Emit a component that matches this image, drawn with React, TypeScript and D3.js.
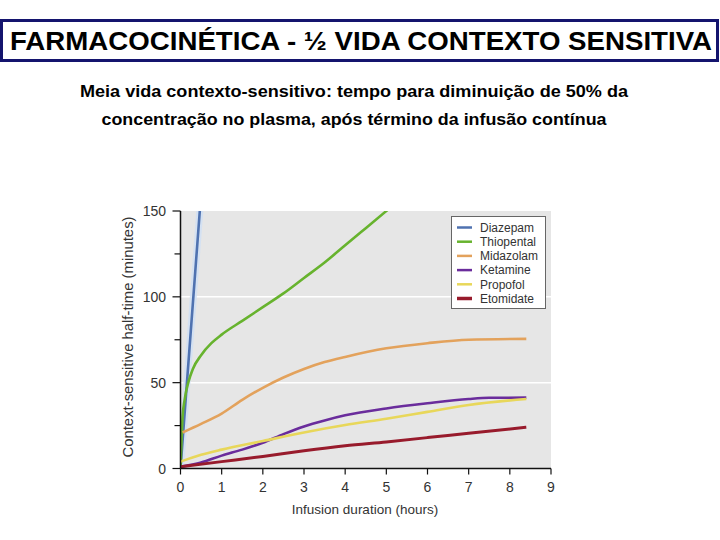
import * as d3 from "d3";

const drugs = ["Diazepam", "Thiopental", "Midazolam", "Ketamine", "Propofol", "Etomidate"];
const colors = ["#4f72b0", "#67b32e", "#e3a25c", "#6a2c9c", "#e8d75a", "#981b2c"];

// [hours, minutes]
const diazepam: [number, number][] = [[0, 0], [0.25, 80], [0.5, 160]];
const thiopental: [number, number][] = [
  [0, 0], [0.05, 30], [0.1, 40], [0.2, 51], [0.3, 58], [0.5, 66], [0.75, 73],
  [1, 78], [1.5, 86], [2, 94], [2.5, 102], [3, 111], [3.5, 120], [4, 130],
  [4.5, 140], [5, 150], [5.2, 154],
];
const midazolam: [number, number][] = [
  [0.05, 21], [0.5, 26], [1, 32], [1.5, 40], [2, 47], [2.5, 53], [3, 58],
  [3.5, 62], [4, 65], [5, 70], [6, 73], [7, 75], [8.4, 75.5],
];
const ketamine: [number, number][] = [
  [0, 1], [0.5, 3.5], [1, 7.5], [1.5, 11], [2, 15], [2.5, 20], [3, 24.5],
  [3.5, 28], [4, 31], [5, 35], [6, 38], [7, 40.5], [7.5, 41.2], [8.4, 41.3],
];
const propofol: [number, number][] = [
  [0, 4], [0.5, 8], [1, 11], [2, 16], [3, 21], [4, 25.3], [5, 29], [6, 33],
  [7, 37], [8.4, 40.5],
];
const etomidate: [number, number][] = [
  [0, 1], [1, 4], [2, 7], [3, 10.3], [4, 13.2], [5, 15.5], [6, 18], [7, 20.6],
  [8.4, 24],
];
const series = [diazepam, thiopental, midazolam, ketamine, propofol, etomidate];

const xTicks = [0, 1, 2, 3, 4, 5, 6, 7, 8, 9];
const yTicks = [0, 50, 100, 150];
const yMinor = [25, 75, 125];
const gridValues = [50, 100];

const title = "FARMACOCINÉTICA -  ½ VIDA CONTEXTO SENSITIVA";
const subtitle1 = "Meia vida contexto-sensitivo: tempo para diminuição de 50% da";
const subtitle2 = "concentração no plasma, após término da infusão contínua";

export default function App() {
  const width = 720;
  const height = 540;
  const plot = { left: 180.5, right: 551, top: 211, bottom: 468.5 };

  const x = d3.scaleLinear().domain([0, 9]).range([plot.left, plot.right]);
  const y = d3.scaleLinear().domain([0, 150]).range([plot.bottom, plot.top]);

  const line = d3
    .line<[number, number]>()
    .x((d) => x(d[0]))
    .y((d) => y(d[1]))
    .curve(d3.curveMonotoneX);

  const font = "'Liberation Sans', Arial, sans-serif";

  return (
    <svg
      width={width}
      height={height}
      style={{ position: "absolute", left: 0, top: 0, background: "#fff" }}
      fontFamily={font}
    >
      <defs>
        <clipPath id="plotClip">
          <rect x={plot.left} y={plot.top} width={plot.right - plot.left} height={plot.bottom - plot.top} />
        </clipPath>
      </defs>

      {/* Title box */}
      <rect x={1.5} y={20.5} width={716} height={40} fill="#fff" stroke="#14146e" strokeWidth={3} />
      <text
        x={361}
        y={50}
        textAnchor="middle"
        fontSize={25}
        fontWeight="bold"
        textLength={702}
        lengthAdjust="spacingAndGlyphs"
      >
        {title}
      </text>

      {/* Subtitle */}
      <text x={354} y={97} textAnchor="middle" fontSize={17} fontWeight="bold" textLength={548} lengthAdjust="spacingAndGlyphs">
        {subtitle1}
      </text>
      <text x={354} y={125} textAnchor="middle" fontSize={17} fontWeight="bold" textLength={505} lengthAdjust="spacingAndGlyphs">
        {subtitle2}
      </text>

      {/* Plot background */}
      <rect x={plot.left} y={plot.top} width={plot.right - plot.left} height={plot.bottom - plot.top} fill="#e6e6e6" />
      {gridValues.map((v) => (
        <line key={v} x1={plot.left} x2={plot.right} y1={y(v)} y2={y(v)} stroke="#fff" strokeWidth={1.5} />
      ))}

      {/* Curves */}
      <g clipPath="url(#plotClip)">
        <path d={line(diazepam) || ""} fill="none" stroke="#cfe0f5" strokeWidth={7} opacity={0.8} />
        {series.map((s, i) => (
          <path
            key={drugs[i]}
            d={line(s) || ""}
            fill="none"
            stroke={colors[i]}
            strokeWidth={i === 5 ? 3 : 2.6}
            strokeLinecap="butt"
          />
        ))}
      </g>

      {/* Axes */}
      <line x1={plot.left} x2={plot.right} y1={plot.bottom} y2={plot.bottom} stroke="#111" strokeWidth={1.5} />
      <line x1={plot.left} x2={plot.left} y1={plot.top} y2={plot.bottom} stroke="#111" strokeWidth={1.5} />
      {xTicks.map((t) => (
        <g key={t}>
          <line x1={x(t)} x2={x(t)} y1={plot.bottom} y2={plot.bottom + 6} stroke="#111" strokeWidth={1.2} />
          <text x={x(t)} y={492} textAnchor="middle" fontSize={14} fill="#333">
            {t}
          </text>
        </g>
      ))}
      {yTicks.map((t) => (
        <g key={t}>
          <line x1={plot.left - 8} x2={plot.left} y1={y(t)} y2={y(t)} stroke="#111" strokeWidth={1.2} />
          <text x={166} y={y(t) + 5} textAnchor="end" fontSize={14} fill="#333">
            {t}
          </text>
        </g>
      ))}
      {yMinor.map((t) => (
        <line key={t} x1={plot.left - 6} x2={plot.left} y1={y(t)} y2={y(t)} stroke="#111" strokeWidth={1.2} />
      ))}

      <text x={365} y={514} textAnchor="middle" fontSize={13.5} fill="#333">
        Infusion duration (hours)
      </text>
      <text
        transform={`translate(133,337) rotate(-90)`}
        textAnchor="middle"
        fontSize={14}
        fill="#333"
        textLength={241}
        lengthAdjust="spacingAndGlyphs"
      >
        Context-sensitive half-time (minutes)
      </text>

      {/* Legend */}
      <rect x={451.5} y={216.5} width={94} height={92} fill="#fff" stroke="#666" strokeWidth={1} />
      {drugs.map((d, i) => {
        const ly = 227.5 + i * 14.2;
        return (
          <g key={d}>
            <line x1={457} x2={472} y1={ly} y2={ly} stroke={colors[i]} strokeWidth={i === 5 ? 3.5 : 2.5} />
            <text x={480} y={ly + 4.3} fontSize={12} fill="#333">
              {d}
            </text>
          </g>
        );
      })}
    </svg>
  );
}
